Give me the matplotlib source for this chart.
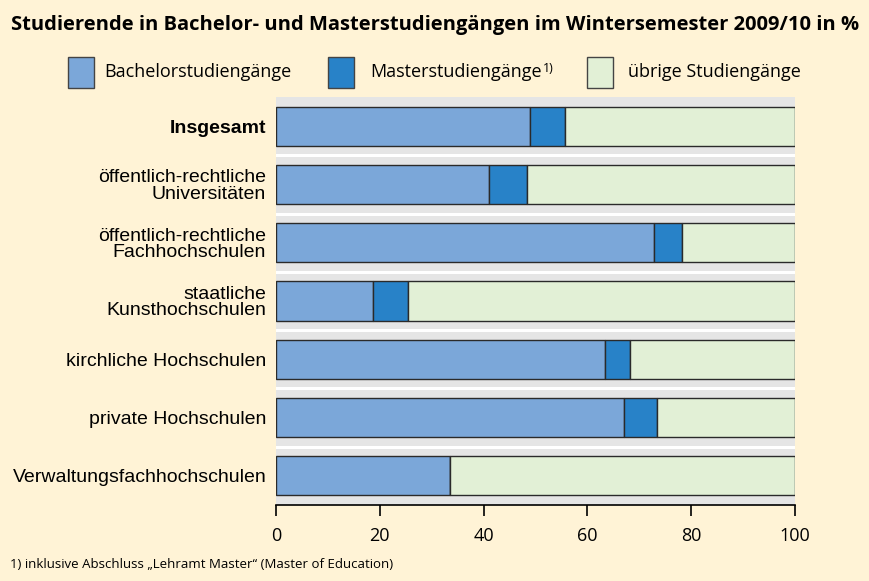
import matplotlib
matplotlib.use("Agg")
import matplotlib.pyplot as plt
from matplotlib.patches import Rectangle
import numpy as np

# data (percent)
categories = ["Insgesamt",
              "öffentlich-rechtliche\nUniversitäten",
              "öffentlich-rechtliche\nFachhochschulen",
              "staatliche\nKunsthochschulen",
              "kirchliche Hochschulen",
              "private Hochschulen",
              "Verwaltungsfachhochschulen"]
bachelor = [48.9, 41.0, 72.8, 18.7, 63.4, 67.0, 33.6]
master = [6.8, 7.4, 5.4, 6.8, 4.8, 6.5, 0.0]
others = [100 - b - m for b, m in zip(bachelor, master)]
series_names = ["Bachelorstudiengänge", "Masterstudiengänge", "übrige Studiengänge"]
xticks = [0, 20, 40, 60, 80, 100]

col_bach = "#7ba7d9"
col_master = "#2882c8"
col_other = "#e2f0d6"
bg = "#fff3d6"
edge = "#2a2a2a"

narrow = ["Liberation Sans Narrow", "Open Sans", "DejaVu Sans"]
plt.rcParams["font.family"] = ["Liberation Sans", "DejaVu Sans"]

fig = plt.figure(figsize=(8.7, 5.81), dpi=100)
fig.patch.set_facecolor(bg)
ax = fig.add_axes([0.3172, 0.1308, 0.5966, 0.7022])
ax.set_facecolor("#e5e5e5")

y = np.arange(len(categories))
h = 0.67
ax.barh(y, bachelor, height=h, color=col_bach, edgecolor=edge, linewidth=1, zorder=3)
ax.barh(y, master, left=bachelor, height=h, color=col_master, edgecolor=edge, linewidth=1, zorder=3)
left2 = [b + m for b, m in zip(bachelor, master)]
ax.barh(y, others, left=left2, height=h, color=col_other, edgecolor=edge, linewidth=1, zorder=3)

# white separators between rows
for k in range(len(categories) - 1):
    ax.axhline(k + 0.5, color="white", linewidth=2.2, zorder=2)

ax.set_xlim(0, 100)
ax.set_ylim(len(categories) - 0.5, -0.5)
ax.set_yticks(y)
ax.set_yticklabels(categories, fontsize=14, linespacing=0.95)
ax.get_yticklabels()[0].set_fontweight("bold")
ax.tick_params(axis="y", length=0, pad=7)
ax.set_xticks(xticks)
ax.set_xticklabels([str(t) for t in xticks], fontsize=13, family=narrow)
ax.tick_params(axis="x", direction="out", length=8, width=1.2, pad=8, colors="black")
for s in ["top", "right", "left"]:
    ax.spines[s].set_visible(False)
ax.spines["bottom"].set_linewidth(1.2)

# title
fig.text(0.5, 0.957, "Studierende in Bachelor- und Masterstudiengängen im Wintersemester 2009/10 in %",
         ha="center", va="center", fontsize=14.5, fontweight="bold", family=narrow)

# legend
leg_x = [68, 328, 587]
txt_x = [104, 370, 628]
W, H = 870.0, 581.0
for lx, tx, c, name in zip(leg_x, txt_x, [col_bach, col_master, col_other], series_names):
    fig.patches.append(Rectangle((lx / W, 1 - 88 / H), 26 / W, 31 / H, transform=fig.transFigure,
                                 facecolor=c, edgecolor="#444444", linewidth=1))
    t = fig.text(tx / W, 1 - 72 / H, name, ha="left", va="center", fontsize=13, family=narrow)
fig.text(543 / W, 1 - 68 / H, "1)", ha="left", va="center", fontsize=9, family=narrow)

# footnote
fig.text(10 / W, 1 - 565 / H, "1) inklusive Abschluss \u201eLehramt Master\u201c (Master of Education)",
         ha="left", va="center", fontsize=9.5, family=narrow)

fig.savefig("out.png", dpi=100, facecolor=bg)
